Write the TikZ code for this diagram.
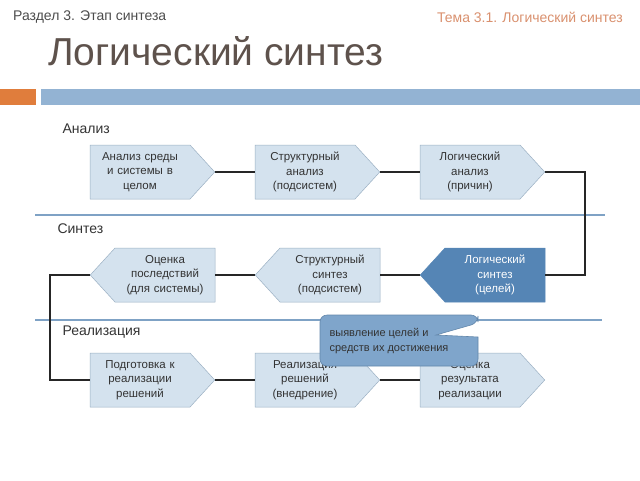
\documentclass[tikz,border=0pt]{standalone}
\usepackage{fontspec}
\setmainfont{Liberation Sans}
\usetikzlibrary{shapes.symbols}

\definecolor{boxfill}{HTML}{D4E2EE}
\definecolor{boxline}{HTML}{9AAFC2}
\definecolor{darkfill}{HTML}{5585B5}
\definecolor{notefill}{HTML}{7FA5CB}
\definecolor{noteline}{HTML}{6286AA}
\definecolor{barorange}{HTML}{E07D3C}
\definecolor{barblue}{HTML}{93B3D3}
\definecolor{sepblue}{HTML}{7FA2C5}
\definecolor{titlegray}{HTML}{5E524C}
\definecolor{headsalmon}{HTML}{D9906E}

\tikzset{
  stage/.style={signal, signal to=east, signal pointer angle=95,
    draw=boxline, fill=boxfill, line width=0.5pt,
    minimum height=54pt, minimum width=100pt, text width=96pt, inner sep=2pt,
    align=center, text=black!80, font=\fontsize{11.5}{14.5}\selectfont},
  stageback/.style={stage, signal to=west},
  conn/.style={line width=1.4pt, black!85},
  sepline/.style={line width=1.8pt, sepblue},
  rowlabel/.style={anchor=west, text=black!80, font=\fontsize{14}{16}\selectfont}
}

\begin{document}
\begin{tikzpicture}[x=1pt, y=-1pt]
\useasboundingbox (0,0) rectangle (640,480);

\node [anchor=west, inner sep=0pt, text=black!70, font=\fontsize{14}{16}\selectfont] (head1) at (13,17) {Раздел 3. Этап синтеза};
\node [anchor=east, inner sep=0pt, text=headsalmon, font=\fontsize{14}{16}\selectfont] (head2) at (623,17) {Тема 3.1. Логический синтез};
\node [anchor=base west, inner sep=0pt, text=titlegray, font=\fontsize{39}{42}\selectfont] (title) at (48,65) {Логический синтез};

\fill[barorange] (0,89) rectangle (36,105);
\fill[barblue] (41,89) rectangle (640,105);

% rows: analysis, synthesis, realisation
\node [rowlabel] (lanal) at (59,129) {Анализ};
\node [rowlabel] (lsynt) at (54,229) {Синтез};
\node [rowlabel] (lreal) at (59,332) {Реализация};

\draw[sepline] (35,215) -- (605,215);
\draw[sepline] (35,320) -- (602,320);

\node [stage] (a1) at (140,172) {Анализ среды\\и системы в\\целом};
\node [stage] (a2) at (305,172) {Структурный\\анализ\\(подсистем)};
\node [stage] (a3) at (470,172) {Логический\\анализ\\(причин)};

\node [stageback] (s1) at (165,275) {Оценка\\последствий\\(для системы)};
\node [stageback] (s2) at (330,275) {Структурный\\синтез\\(подсистем)};
\node [stageback, fill=darkfill, draw=darkfill, text=white] (s3) at (495,275) {Логический\\синтез\\(целей)};

\node [stage] (r1) at (140,380) {Подготовка к\\реализации\\решений};
\node [stage] (r2) at (305,380) {Реализация\\решений\\(внедрение)};
\node [stage] (r3) at (470,380) {Оценка\\результата\\реализации};

\coordinate (turnR) at (585,172);
\coordinate (turnL) at (50,275);

\draw[conn] (a1.east) -- (a2.west);
\draw[conn] (a2.east) -- (a3.west);
\draw[conn] (a3.east) -- (turnR) |- (s3.east);
\draw[conn] (s3.west) -- (s2.east);
\draw[conn] (s2.west) -- (s1.east);
\draw[conn] (s1.west) -- (turnL) |- (r1.west);
\draw[conn] (r1.east) -- (r2.west);
\draw[conn] (r2.east) -- (r3.west);

% callout
\filldraw[fill=notefill, draw=noteline, line width=0.6pt, rounded corners=7pt]
  (320,315) -- (478,315) -- (478,323) [sharp corners] -- (436,335) -- (478,337)
  [rounded corners=7pt] -- (478,366) -- (320,366) -- cycle;
\node [anchor=west, align=left, text=black!80, font=\fontsize{11}{15}\selectfont] (note) at (326,341) {выявление целей и\\средств их достижения};
\end{tikzpicture}
\end{document}
